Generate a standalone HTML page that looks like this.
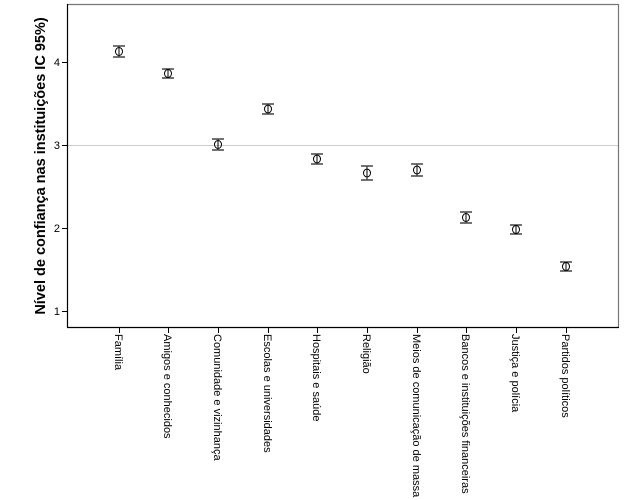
<!DOCTYPE html>
<html><head><meta charset="utf-8"><style>body{margin:0;background:#fff}svg{display:block}</style></head><body>
<svg width="625" height="500" xmlns="http://www.w3.org/2000/svg" font-family="Liberation Sans, Arial, sans-serif">
<rect width="625" height="500" fill="#fff"/>
<line x1="67" y1="4.5" x2="618" y2="4.5" stroke="#777" stroke-width="1.2"/>
<line x1="618.5" y1="4" x2="618.5" y2="327" stroke="#777" stroke-width="1.2"/>
<line x1="67" y1="145.5" x2="618" y2="145.5" stroke="#ccc" stroke-width="1"/>
<line x1="67.5" y1="4" x2="67.5" y2="327.5" stroke="#000" stroke-width="1.2"/>
<line x1="67" y1="327.5" x2="619" y2="327.5" stroke="#000" stroke-width="1.2"/>
<g stroke="#000" stroke-width="1">
<line x1="62" y1="62.5" x2="67" y2="62.5"/><line x1="62" y1="145.5" x2="67" y2="145.5"/>
<line x1="62" y1="228.5" x2="67" y2="228.5"/><line x1="62" y1="311.5" x2="67" y2="311.5"/>
</g>
<g font-size="11" text-anchor="end" fill="#000">
<text x="60" y="66">4</text><text x="60" y="149">3</text><text x="60" y="232">2</text><text x="60" y="315">1</text>
</g>
<text transform="translate(45,166) rotate(-90)" text-anchor="middle" font-size="14.5" font-weight="bold">Nível de confiança nas instituições IC 95%)</text>
<g id="pts" stroke="#000" fill="none" stroke-width="1">
<!-- x, center, lo, hi -->
<g transform="translate(119,0)"><line x1="0" y1="46" x2="0" y2="57"/><line x1="-6" y1="46" x2="6" y2="46" stroke="#444" stroke-width="1.5"/><line x1="-6" y1="57" x2="6" y2="57" stroke="#444" stroke-width="1.5"/><ellipse cx="0" cy="51.5" rx="3.5" ry="4"/></g>
<g transform="translate(168,0)"><line x1="0" y1="69" x2="0" y2="78"/><line x1="-6" y1="69" x2="6" y2="69" stroke="#444" stroke-width="1.5"/><line x1="-6" y1="78" x2="6" y2="78" stroke="#444" stroke-width="1.5"/><ellipse cx="0" cy="73.5" rx="3.5" ry="4"/></g>
<g transform="translate(218,0)"><line x1="0" y1="139" x2="0" y2="150"/><line x1="-6" y1="139" x2="6" y2="139" stroke="#444" stroke-width="1.5"/><line x1="-6" y1="150" x2="6" y2="150" stroke="#444" stroke-width="1.5"/><ellipse cx="0" cy="144.5" rx="3.5" ry="4"/></g>
<g transform="translate(268,0)"><line x1="0" y1="104" x2="0" y2="114"/><line x1="-6" y1="104" x2="6" y2="104" stroke="#444" stroke-width="1.5"/><line x1="-6" y1="114" x2="6" y2="114" stroke="#444" stroke-width="1.5"/><ellipse cx="0" cy="109" rx="3.5" ry="4"/></g>
<g transform="translate(317,0)"><line x1="0" y1="154" x2="0" y2="164"/><line x1="-6" y1="154" x2="6" y2="154" stroke="#444" stroke-width="1.5"/><line x1="-6" y1="164" x2="6" y2="164" stroke="#444" stroke-width="1.5"/><ellipse cx="0" cy="159" rx="3.5" ry="4"/></g>
<g transform="translate(367,0)"><line x1="0" y1="166" x2="0" y2="180"/><line x1="-6" y1="166" x2="6" y2="166" stroke="#444" stroke-width="1.5"/><line x1="-6" y1="180" x2="6" y2="180" stroke="#444" stroke-width="1.5"/><ellipse cx="0" cy="173" rx="3.5" ry="4"/></g>
<g transform="translate(417,0)"><line x1="0" y1="164" x2="0" y2="176"/><line x1="-6" y1="164" x2="6" y2="164" stroke="#444" stroke-width="1.5"/><line x1="-6" y1="176" x2="6" y2="176" stroke="#444" stroke-width="1.5"/><ellipse cx="0" cy="170" rx="3.5" ry="4"/></g>
<g transform="translate(466,0)"><line x1="0" y1="212" x2="0" y2="223"/><line x1="-6" y1="212" x2="6" y2="212" stroke="#444" stroke-width="1.5"/><line x1="-6" y1="223" x2="6" y2="223" stroke="#444" stroke-width="1.5"/><ellipse cx="0" cy="217.5" rx="3.5" ry="4"/></g>
<g transform="translate(516,0)"><line x1="0" y1="225" x2="0" y2="234"/><line x1="-6" y1="225" x2="6" y2="225" stroke="#444" stroke-width="1.5"/><line x1="-6" y1="234" x2="6" y2="234" stroke="#444" stroke-width="1.5"/><ellipse cx="0" cy="229.5" rx="3.5" ry="4"/></g>
<g transform="translate(566,0)"><line x1="0" y1="262" x2="0" y2="271"/><line x1="-6" y1="262" x2="6" y2="262" stroke="#444" stroke-width="1.5"/><line x1="-6" y1="271" x2="6" y2="271" stroke="#444" stroke-width="1.5"/><ellipse cx="0" cy="266.5" rx="3.5" ry="4"/></g>
</g>
<g stroke="#000" stroke-width="1">
<line x1="119.5" y1="327" x2="119.5" y2="333"/><line x1="168.5" y1="327" x2="168.5" y2="333"/><line x1="218.5" y1="327" x2="218.5" y2="333"/><line x1="268.5" y1="327" x2="268.5" y2="333"/><line x1="317.5" y1="327" x2="317.5" y2="333"/><line x1="367.5" y1="327" x2="367.5" y2="333"/><line x1="417.5" y1="327" x2="417.5" y2="333"/><line x1="466.5" y1="327" x2="466.5" y2="333"/><line x1="516.5" y1="327" x2="516.5" y2="333"/><line x1="566.5" y1="327" x2="566.5" y2="333"/>
</g>
<g font-size="11" fill="#000">
<text transform="translate(115,334) rotate(90)">Família</text>
<text transform="translate(164,334) rotate(90)">Amigos e conhecidos</text>
<text transform="translate(214,334) rotate(90)">Comunidade e vizinhança</text>
<text transform="translate(264,334) rotate(90)">Escolas e universidades</text>
<text transform="translate(313,334) rotate(90)">Hospitais e saúde</text>
<text transform="translate(363,334) rotate(90)">Religião</text>
<text transform="translate(413,334) rotate(90)">Meios de comunicação de massa</text>
<text transform="translate(462,334) rotate(90)">Bancos e instituições financeiras</text>
<text transform="translate(512,334) rotate(90)">Justiça e polícia</text>
<text transform="translate(562,334) rotate(90)">Partidos políticos</text>
</g>
</svg>
</body></html>
